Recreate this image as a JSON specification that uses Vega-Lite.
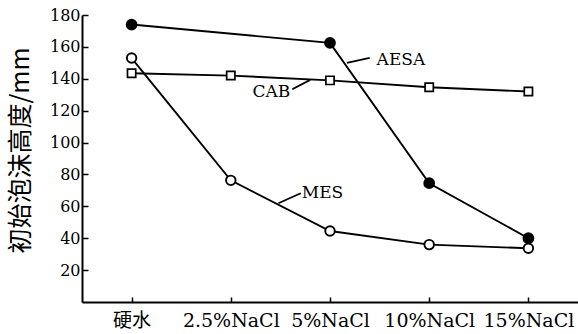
{
  "$schema": "https://vega.github.io/schema/vega-lite/v6.json",
  "width": 496,
  "height": 287,
  "autosize": {"type": "none"},
  "padding": {"left": 82, "top": 15, "right": 0, "bottom": 32},
  "background": "white",
  "config": {
    "view": {"stroke": null},
    "font": "DejaVu Serif"
  },
  "datasets": {
    "foam": [
      {"cond": "硬水", "idx": 0, "series": "AESA", "height": 174},
      {"cond": "5%NaCl", "idx": 2, "series": "AESA", "height": 162.5},
      {"cond": "10%NaCl", "idx": 3, "series": "AESA", "height": 74.5},
      {"cond": "15%NaCl", "idx": 4, "series": "AESA", "height": 40},
      {"cond": "硬水", "idx": 0, "series": "CAB", "height": 143.5},
      {"cond": "2.5%NaCl", "idx": 1, "series": "CAB", "height": 142},
      {"cond": "5%NaCl", "idx": 2, "series": "CAB", "height": 139},
      {"cond": "10%NaCl", "idx": 3, "series": "CAB", "height": 134.7},
      {"cond": "15%NaCl", "idx": 4, "series": "CAB", "height": 132},
      {"cond": "硬水", "idx": 0, "series": "MES", "height": 153},
      {"cond": "2.5%NaCl", "idx": 1, "series": "MES", "height": 76.3},
      {"cond": "5%NaCl", "idx": 2, "series": "MES", "height": 44.5},
      {"cond": "10%NaCl", "idx": 3, "series": "MES", "height": 36},
      {"cond": "15%NaCl", "idx": 4, "series": "MES", "height": 33.7}
    ],
    "leaders": [
      {"series": "AESA", "idx": 2.17, "height": 149.9, "idx2": 2.4, "height2": 153.1},
      {"series": "CAB", "idx": 1.62, "height": 133.4, "idx2": 1.8, "height2": 139.3},
      {"series": "MES", "idx": 1.48, "height": 61.9, "idx2": 1.705, "height2": 68.2}
    ],
    "labels": [
      {"series": "AESA", "idx": 2.47, "height": 151.8, "align": "left"},
      {"series": "CAB", "idx": 1.6, "height": 131.9, "align": "right"},
      {"series": "MES", "idx": 1.715, "height": 68.6, "align": "left"}
    ]
  },
  "encoding": {
    "x": {
      "field": "idx", "type": "quantitative",
      "scale": {"domain": [-0.5, 4.5], "nice": false, "zero": false},
      "axis": {
        "values": [0, 1, 2, 3, 4],
        "labelExpr": "['硬水','2.5%NaCl','5%NaCl','10%NaCl','15%NaCl'][datum.value]",
        "title": null, "grid": false,
        "domainColor": "black", "domainWidth": 2,
        "tickColor": "black", "tickWidth": 1.5, "tickSize": -5,
        "labelFont": "DejaVu Serif, Noto Sans CJK SC",
        "labelFontSize": 19, "labelColor": "black", "labelPadding": 14,
        "labelFlush": false, "labelOverlap": false
      }
    },
    "y": {
      "field": "height", "type": "quantitative",
      "scale": {"domain": [0, 180], "nice": false},
      "axis": {
        "values": [20, 40, 60, 80, 100, 120, 140, 160, 180],
        "title": "初始泡沫高度/mm", "grid": false,
        "domainColor": "black", "domainWidth": 2,
        "tickColor": "black", "tickWidth": 1.5, "tickSize": -6,
        "labelFont": "DejaVu Serif", "labelFontSize": 16,
        "labelColor": "black", "labelPadding": 8,
        "labelOverlap": false, "labelFlush": false,
        "titleFont": "Noto Sans CJK SC, DejaVu Serif", "titleFontSize": 25,
        "titleFontWeight": "normal", "titleColor": "black",
        "titleX": -62, "titleY": 135, "titleBaseline": "middle", "titleAlign": "center"
      }
    }
  },
  "layer": [
    {
      "data": {"name": "foam"},
      "mark": {"type": "line", "color": "black", "strokeWidth": 1.9},
      "encoding": {"detail": {"field": "series"}}
    },
    {
      "data": {"name": "foam"},
      "transform": [{"filter": "datum.series == 'AESA'"}],
      "mark": {"type": "point", "shape": "circle", "filled": true, "fill": "black", "stroke": "black", "size": 95, "opacity": 1},
      "encoding": {}
    },
    {
      "data": {"name": "foam"},
      "transform": [{"filter": "datum.series == 'MES'"}],
      "mark": {"type": "point", "shape": "circle", "fill": "white", "stroke": "black", "strokeWidth": 1.9, "size": 90, "opacity": 1},
      "encoding": {}
    },
    {
      "data": {"name": "foam"},
      "transform": [{"filter": "datum.series == 'CAB'"}],
      "mark": {"type": "point", "shape": "square", "fill": "white", "stroke": "black", "strokeWidth": 1.7, "size": 68, "opacity": 1},
      "encoding": {}
    },
    {
      "data": {"name": "leaders"},
      "mark": {"type": "rule", "color": "black", "strokeWidth": 1.8},
      "encoding": {
        "x2": {"field": "idx2"},
        "y2": {"field": "height2"}
      }
    },
    {
      "data": {"name": "labels"},
      "transform": [{"filter": "datum.align == 'left'"}],
      "mark": {"type": "text", "align": "left", "baseline": "middle", "font": "DejaVu Serif", "fontSize": 17, "color": "black"},
      "encoding": {"text": {"field": "series"}}
    },
    {
      "data": {"name": "labels"},
      "transform": [{"filter": "datum.align == 'right'"}],
      "mark": {"type": "text", "align": "right", "baseline": "middle", "font": "DejaVu Serif", "fontSize": 17, "color": "black"},
      "encoding": {"text": {"field": "series"}}
    }
  ]
}
